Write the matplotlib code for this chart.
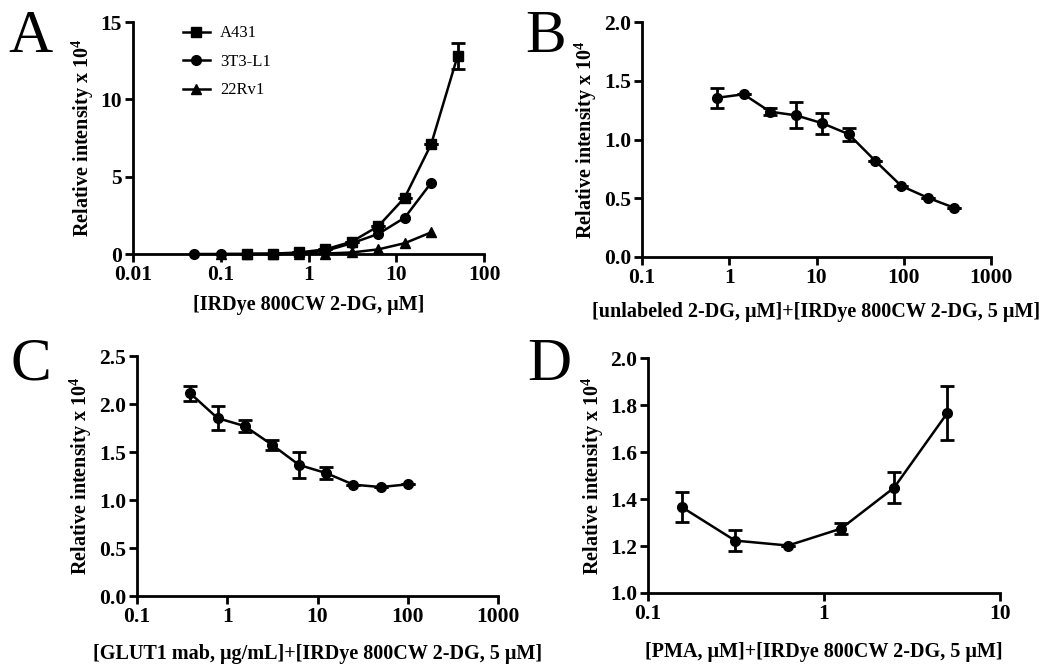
import numpy as np
import matplotlib.pyplot as plt
from matplotlib.ticker import FixedLocator, NullLocator, FixedFormatter

plt.rcParams['font.family'] = ['Liberation Serif', 'DejaVu Serif']
plt.rcParams['mathtext.fontset'] = 'custom'
plt.rcParams['mathtext.rm'] = 'Liberation Serif'
plt.rcParams['mathtext.bf'] = 'Liberation Serif:bold'

# panel A: IRDye 800CW 2-DG uptake in three cell lines
a431_x = [0.2, 0.39, 0.78, 1.56, 3.125, 6.25, 12.5, 25, 50]
a431_y = [0.01, 0.02, 0.1, 0.3, 0.8, 1.8, 3.65, 7.1, 12.8]
a431_err = [0, 0, 0, 0, 0, 0, 0, 0, 0.85]
l1_x = [0.05, 0.1, 0.2, 0.39, 0.78, 1.56, 3.125, 6.25, 12.5, 25]
l1_y = [0.0, 0.0, 0.0, 0.01, 0.05, 0.2, 0.7, 1.3, 2.35, 4.6]
rv1_x = [0.1, 0.2, 0.39, 0.78, 1.56, 3.125, 6.25, 12.5, 25]
rv1_y = [0.0, 0.0, 0.0, 0.0, 0.03, 0.1, 0.3, 0.7, 1.4]

# panel B: unlabeled 2-DG competition
b_x = [0.73, 1.46, 2.93, 5.86, 11.7, 23.4, 46.9, 93.75, 187.5, 375]
b_y = [1.355, 1.385, 1.237, 1.205, 1.138, 1.045, 0.82, 0.605, 0.505, 0.42]
b_err = [0.085, 0, 0.03, 0.11, 0.09, 0.055, 0, 0, 0, 0]

# panel C: GLUT1 mab
c_x = [0.39, 0.78, 1.56, 3.125, 6.25, 12.5, 25, 50, 100]
c_y = [2.11, 1.853, 1.77, 1.576, 1.365, 1.28, 1.16, 1.135, 1.163]
c_err = [0.075, 0.125, 0.065, 0.052, 0.14, 0.065, 0, 0, 0]

# panel D: PMA
d_x = [0.156, 0.3125, 0.625, 1.25, 2.5, 5.0]
d_y = [1.365, 1.223, 1.202, 1.274, 1.448, 1.764]
d_err = [0.063, 0.043, 0, 0.025, 0.067, 0.115]

ylab = r'Relative intensity x 10$^{\mathbf{4}}$'

fig = plt.figure(figsize=(10.5, 6.65), dpi=100)
W, H = 1050, 665


def make_ax(l, r, t, b):
    return fig.add_axes([l / W, 1 - b / H, (r - l) / W, (b - t) / H])


def style(ax, xlim, xticks, xtl, ylim, yticks, ytl, xlabel, xlpad):
    ax.set_xscale('log')
    ax.set_xlim(*xlim)
    ax.set_ylim(*ylim)
    ax.xaxis.set_major_locator(FixedLocator(xticks))
    ax.xaxis.set_major_formatter(FixedFormatter(xtl))
    ax.xaxis.set_minor_locator(NullLocator())
    ax.set_yticks(yticks)
    ax.set_yticklabels(ytl)
    for s in ['top', 'right']:
        ax.spines[s].set_visible(False)
    for s in ['left', 'bottom']:
        ax.spines[s].set_linewidth(2)
    ax.tick_params(direction='out', width=2, length=6, labelsize=15.5, pad=2)
    for lab in ax.get_xticklabels() + ax.get_yticklabels():
        lab.set_fontweight('bold')
    ax.set_xlabel(xlabel, fontsize=14.5, fontweight='bold', labelpad=xlpad)
    ax.set_ylabel(ylab, fontsize=14.5, fontweight='bold', labelpad=3)
    ax.patch.set_alpha(0)


def series(ax, x, y, err, marker):
    ax.errorbar(x, y, yerr=err, color='black', marker=marker, markersize=7,
                linewidth=1.8, elinewidth=2, capsize=5, capthick=2, clip_on=False)


# A
axA = make_ax(133, 484, 22, 254)
axA.plot(rv1_x, rv1_y, '-^', color='black', markersize=7, linewidth=1.8, clip_on=False, label='22Rv1')
axA.plot(l1_x, l1_y, '-o', color='black', markersize=7, linewidth=1.8, clip_on=False, label='3T3-L1')
series(axA, a431_x, a431_y, a431_err, 's')
axA.plot([], [], '-s', color='black', markersize=7, linewidth=1.8, label='A431')
h, l = axA.get_legend_handles_labels()
order = [l.index('A431'), l.index('3T3-L1'), l.index('22Rv1')]
axA.legend([h[i] for i in order], [l[i] for i in order], loc='upper left',
           bbox_to_anchor=(0.1, 1.05), frameon=False, fontsize=12, handlelength=1.6,
           handletextpad=0.6, labelspacing=0.75)
style(axA, (0.01, 100), [0.01, 0.1, 1, 10, 100], ['0.01', '0.1', '1', '10', '100'],
      (0, 15), [0, 5, 10, 15], ['0', '5', '10', '15'], '[IRDye 800CW 2-DG, μM]', 7)

# B
axB = make_ax(642, 991, 22, 257)
series(axB, b_x, b_y, b_err, 'o')
style(axB, (0.1, 1000), [0.1, 1, 10, 100, 1000], ['0.1', '1', '10', '100', '1000'],
      (0, 2.0), [0, 0.5, 1.0, 1.5, 2.0], ['0.0', '0.5', '1.0', '1.5', '2.0'],
      '[unlabeled 2-DG, μM]+[IRDye 800CW 2-DG, 5 μM]', 10)

# C
axC = make_ax(137, 498, 356, 596)
series(axC, c_x, c_y, c_err, 'o')
style(axC, (0.1, 1000), [0.1, 1, 10, 100, 1000], ['0.1', '1', '10', '100', '1000'],
      (0, 2.5), [0, 0.5, 1.0, 1.5, 2.0, 2.5], ['0.0', '0.5', '1.0', '1.5', '2.0', '2.5'],
      '[GLUT1 mab, μg/mL]+[IRDye 800CW 2-DG, 5 μM]', 12)

# D
axD = make_ax(648, 1000, 358, 593)
series(axD, d_x, d_y, d_err, 'o')
style(axD, (0.1, 10), [0.1, 1, 10], ['0.1', '1', '10'],
      (1.0, 2.0), [1.0, 1.2, 1.4, 1.6, 1.8, 2.0], ['1.0', '1.2', '1.4', '1.6', '1.8', '2.0'],
      '[PMA, μM]+[IRDye 800CW 2-DG, 5 μM]', 13)

for letter, x, y in [('A', 8, 52), ('B', 525, 52), ('C', 10, 380), ('D', 527, 380)]:
    fig.text(x / W, 1 - y / H, letter, fontsize=44, ha='left', va='baseline')

fig.savefig('out.png', dpi=100)
